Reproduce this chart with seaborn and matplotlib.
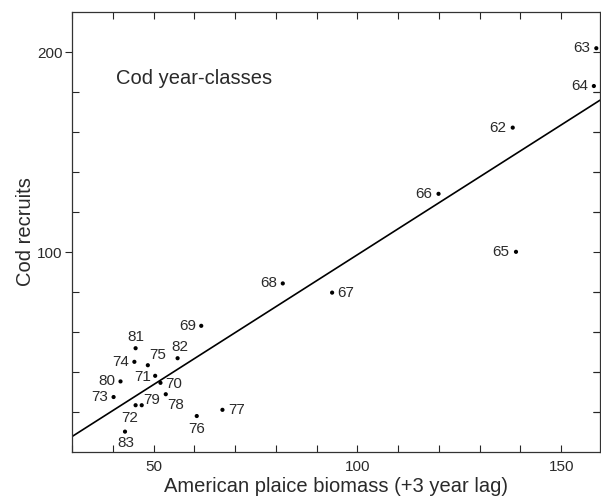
import numpy as np
import pandas as pd
import seaborn as sns
import matplotlib.pyplot as plt
from matplotlib.ticker import MultipleLocator, FixedLocator

# cod year-classes: plaice biomass (+3 yr lag) vs cod recruits
year_class = ["62", "63", "64", "65", "66", "67", "68", "69", "70", "71", "72",
              "73", "74", "75", "76", "77", "78", "79", "80", "81", "82", "83"]
plaice_biomass = [138.1, 158.6, 158.0, 138.9, 119.9, 93.8, 81.7, 61.7, 51.7, 50.4, 45.6,
                  40.2, 45.3, 48.6, 60.6, 66.9, 53.0, 47.1, 41.9, 45.6, 55.9, 43.0]
cod_recruits = [162.2, 201.9, 183.0, 100.1, 129.1, 79.7, 84.3, 63.1, 34.6, 38.1, 23.4,
                27.5, 45.1, 43.4, 18.0, 21.1, 28.9, 23.4, 35.3, 51.9, 46.9, 10.2]

df = pd.DataFrame({"year": year_class, "plaice": plaice_biomass, "cod": cod_recruits})

# where each label sits relative to its dot (pixels, ha, va)
label_pos = {
    "62": (-6, 0, "right", "center"), "63": (-6, 0, "right", "center"),
    "64": (-6, 0, "right", "center"), "65": (-7, 0, "right", "center"),
    "66": (-6, 0, "right", "center"), "67": (5, 0, "left", "center"),
    "68": (-6, 0, "right", "center"), "69": (-5, 0, "right", "center"),
    "70": (5, -1, "left", "center"), "71": (-4, -1, "right", "center"),
    "72": (-6, -6, "center", "top"), "73": (-5, 0, "right", "center"),
    "74": (-5, 0, "right", "center"), "75": (1, 3, "left", "bottom"),
    "76": (0, -6, "center", "top"), "77": (6, 0, "left", "center"),
    "78": (1, -4, "left", "top"), "79": (2, 5, "left", "center"),
    "80": (-5, 0, "right", "center"), "81": (0, 4, "center", "bottom"),
    "82": (2, 4, "center", "bottom"), "83": (1, -4, "center", "top"),
}

sns.set_style("ticks")
plt.rcParams["font.family"] = ["Liberation Sans", "DejaVu Sans"]
txt = "#2a2a2a"

fig = plt.figure(figsize=(6.01, 4.97), dpi=100)
ax = fig.add_axes([0.1198, 0.0905, 0.8785, 0.8853])
ax.set_xlim(30, 159.5)
ax.set_ylim(0, 220)

sns.regplot(data=df, x="plaice", y="cod", ax=ax, ci=None, truncate=False,
            scatter=False, line_kws={"color": "black", "lw": 1.2})
sns.scatterplot(data=df, x="plaice", y="cod", ax=ax, color="black", s=9,
                edgecolor="none", zorder=3)

for _, r in df.iterrows():
    dx, dy, ha, va = label_pos[r["year"]]
    ax.annotate(r["year"], (r["plaice"], r["cod"]), xytext=(dx, dy),
                textcoords="offset pixels", ha=ha, va=va, fontsize=11, color=txt)

ax.text(0.083, 0.848, "Cod year-classes", transform=ax.transAxes,
        fontsize=14.5, color=txt, va="center")

ax.set_xlim(30, 159.5)
ax.set_ylim(0, 220)
ax.xaxis.set_major_locator(MultipleLocator(50))
ax.xaxis.set_minor_locator(MultipleLocator(10))
ax.yaxis.set_major_locator(FixedLocator([100, 200]))
ax.yaxis.set_minor_locator(FixedLocator([20, 40, 60, 80, 120, 140, 160, 180]))

ax.tick_params(axis="x", which="both", direction="in", top=True, length=5,
               width=0.8, labelsize=11, labelcolor=txt, pad=6)
ax.tick_params(axis="y", which="major", direction="out", left=True, right=False,
               length=5, width=0.8, labelsize=11, labelcolor=txt, pad=2)
ax.tick_params(axis="y", which="minor", direction="in", left=True, right=True,
               length=5, width=0.8)
# right side: inward ticks at every 20, majors included
ax_r = ax.secondary_yaxis("right")
ax_r.yaxis.set_major_locator(FixedLocator([20, 40, 60, 80, 100, 120, 140, 160, 180, 200]))
ax_r.tick_params(direction="in", length=5, width=0.8, labelright=False)
ax_r.spines["right"].set_visible(False)

for sp in ax.spines.values():
    sp.set_linewidth(0.9)
    sp.set_color("#333333")

ax.set_xlabel("American plaice biomass (+3 year lag)", fontsize=14.5, color=txt, labelpad=2)
ax.set_ylabel("Cod recruits", fontsize=14.5, color=txt, labelpad=1)

fig.savefig("out.png", dpi=100)
